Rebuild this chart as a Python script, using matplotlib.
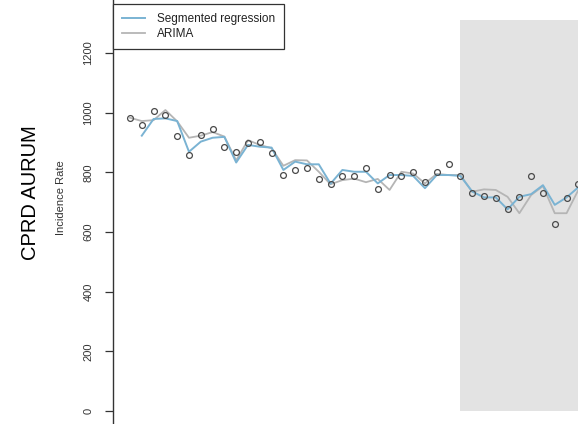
import numpy as np
import matplotlib
matplotlib.use("Agg")
import matplotlib.pyplot as plt

plt.rcParams['font.family'] = ['Liberation Sans', 'DejaVu Sans']

# ---- data ----
observed = [983, 958, 1007, 991, 921, 858, 926, 945, 885, 869, 899, 902, 864,
            791, 809, 814, 779, 760, 787, 787, 814, 743, 790, 787, 801, 769,
            801, 828, 787, 730, 721, 715, 676, 717, 787, 730, 627, 715, 762]
segmented = [np.nan, 923, 979, 981, 972, 869, 903, 916, 919, 833, 892, 886, 883,
             808, 836, 827, 827, 762, 808, 802, 802, 763, 791, 791, 788, 747,
             791, 791, 788, 736, 716, 716, 676, 718, 727, 757, 691, 716, 750]
arima = [983, 972, 975, 1009, 971, 916, 923, 935, 920, 840, 908, 892, 881,
         822, 841, 840, 802, 760, 774, 779, 767, 778, 741, 802, 796, 763,
         795, 791, 791, 735, 743, 741, 718, 663, 724, 754, 663, 663, 741]
shade_start = 28
shade_top = 1310
yticks = [0, 200, 400, 600, 800, 1000, 1200]

x = np.arange(len(observed))

W, H = 578, 424
fig = plt.figure(figsize=(W / 100, H / 100), dpi=100)
ax = fig.add_axes([113 / W, 0, 1 - 113 / W, 1])

ax.fill_between([shade_start, shade_start + 30], 0, shade_top,
                color='#e3e3e3', lw=0, zorder=0)
ax.plot(x, arima, color='#b5b5b5', lw=1.3, zorder=2, label='ARIMA')
ax.plot(x, segmented, color='#7ab3d3', lw=1.4, zorder=3, label='Segmented regression')
ax.plot(x, observed, ls='none', marker='o', ms=4.2, mfc='none',
        mec='#4a4a4a', mew=0.9, zorder=4, clip_on=False)

ax.set_xlim(-1.44, 37.97)
ax.set_ylim(-43.6, 1377.8)

for s in ['top', 'right', 'bottom']:
    ax.spines[s].set_visible(False)
ax.spines['left'].set_color('#333333')
ax.spines['left'].set_linewidth(1.0)

ax.set_xticks([])
ax.set_yticks(yticks)
ax.set_yticklabels([str(v) for v in yticks])
ax.tick_params(axis='y', length=6, width=0.9, color='#333333', pad=8,
               labelsize=8, labelcolor='#333333', labelrotation=90)
for lab in ax.get_yticklabels():
    lab.set_va('center')

handles, labels = ax.get_legend_handles_labels()
order = [1, 0]
leg = ax.legend([handles[i] for i in order], [labels[i] for i in order],
                loc='upper left', bbox_to_anchor=(113 / W, 1 - 4 / H),
                bbox_transform=fig.transFigure, fontsize=8.5, frameon=True,
                fancybox=False, edgecolor='#333333', framealpha=1,
                handlelength=2.0, handletextpad=1.0, labelspacing=0.25,
                borderpad=0.75, borderaxespad=0)
leg.get_frame().set_linewidth(0.9)
for t in leg.get_texts():
    t.set_color('#222222')

fig.text(61 / W, 1 - 198 / H, 'Incidence Rate', rotation=90, fontsize=8,
         color='#333333', ha='center', va='center')
fig.text(31 / W, 1 - 193 / H, 'CPRD AURUM', rotation=90, fontsize=14.5,
         color='black', ha='center', va='center')

fig.savefig('out.png', dpi=100)
